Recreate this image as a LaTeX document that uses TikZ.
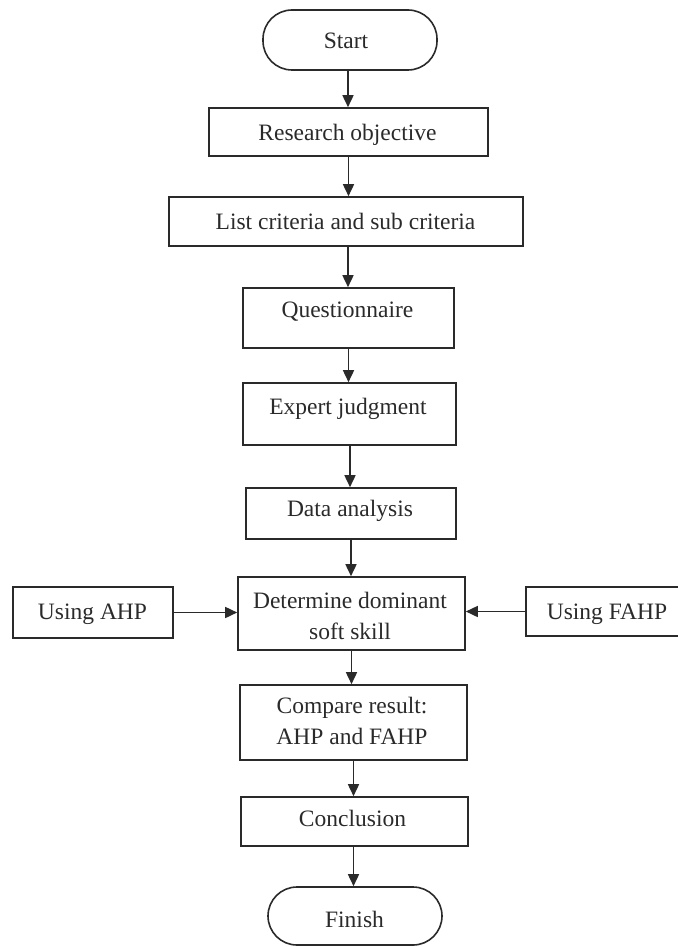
\documentclass[tikz,border=0pt]{standalone}
\usepackage{fontspec}
\setmainfont{Liberation Serif}
\usetikzlibrary{arrows.meta}
\definecolor{ink}{HTML}{2A2A2A}
\tikzset{
  box/.style={draw=ink, line width=1.6pt, inner sep=0pt, fill=none},
  term/.style={box, rounded corners=29pt},
  txt/.style={inner sep=0pt, anchor=base, text=ink, font=\fontsize{23.5}{28}\selectfont},
  arr/.style={draw=ink, line width=1.6pt, -{Triangle[length=12pt,width=11pt]}}
}
\begin{document}
\begin{tikzpicture}[x=1pt,y=-1pt]
\useasboundingbox (0,0) rectangle (677,947);
% boxes
\node[term, minimum width=174pt, minimum height=60pt] (start) at (350,40) {};
\node[box, minimum width=279pt, minimum height=48pt] (res) at (348.5,132) {};
\node[box, minimum width=354pt, minimum height=49pt] (list) at (346,221.5) {};
\node[box, minimum width=211pt, minimum height=60pt] (q) at (348.5,318) {};
\node[box, minimum width=213pt, minimum height=62pt] (e) at (349.5,414) {};
\node[box, minimum width=210pt, minimum height=51pt] (d) at (351,513.5) {};
\node[box, minimum width=227pt, minimum height=73pt] (det) at (351.5,613.5) {};
\node[box, minimum width=160pt, minimum height=51pt] (ahp) at (93,612.5) {};
\node[box, minimum width=164pt, minimum height=49pt] (fahp) at (608,611.5) {};
\node[box, minimum width=227pt, minimum height=75pt] (cmp) at (353.5,722.5) {};
\node[box, minimum width=227pt, minimum height=49pt] (con) at (354.5,821.5) {};
\node[term, minimum width=174pt, minimum height=58pt] (fin) at (355,916) {};
% texts
\node[txt] (tstart) at (346,49) {Start};
\node[txt] (tres) at (347.5,140) {Research objective};
\node[txt] (tlist) at (345.5,229) {List criteria and sub criteria};
\node[txt] (tq) at (347.5,317) {Questionnaire};
\node[txt] (te) at (348,414) {Expert judgment};
\node[txt] (td) at (350,516) {Data analysis};
\node[txt] (tdet1) at (350,608) {Determine dominant};
\node[txt] (tdet2) at (350,639) {soft skill};
\node[txt] (tahp) at (92.5,619) {Using AHP};
\node[txt] (tfahp) at (607,619) {Using FAHP};
\node[txt] (tcmp1) at (352,713) {Compare result:};
\node[txt] (tcmp2) at (352,744) {AHP and FAHP};
\node[txt] (tcon) at (352.5,826) {Conclusion};
\node[txt] (tfin) at (354.5,927) {Finish};
% connectors
\draw[arr] ([xshift=-2pt]start.south) -- ([xshift=-2pt]start.south |- res.north);
\draw[arr] (res.south) -- (res.south |- list.north);
\draw[arr] ([xshift=2pt]list.south) -- ([xshift=2pt]list.south |- q.north);
\draw[arr] (q.south) -- (q.south |- e.north);
\draw[arr] ([xshift=0.5pt]e.south) -- ([xshift=0.5pt]e.south |- d.north);
\draw[arr] (d.south) -- (d.south |- det.north);
\draw[arr] (det.south) -- (det.south |- cmp.north);
\draw[arr] (cmp.south) -- (cmp.south |- con.north);
\draw[arr] ([xshift=-1pt]con.south) -- ([xshift=-1pt]con.south |- fin.north);
\draw[arr] (ahp.east) -- (ahp.east -| det.west);
\draw[arr] (fahp.west) -- (fahp.west -| det.east);
\end{tikzpicture}
\end{document}
